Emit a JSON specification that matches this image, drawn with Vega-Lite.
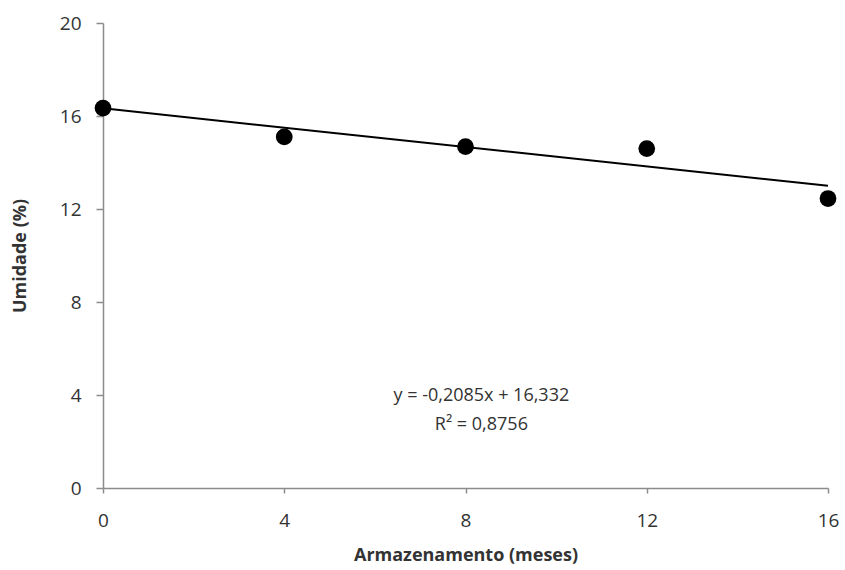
{
  "$schema": "https://vega.github.io/schema/vega-lite/v6.json",
  "width": 725,
  "height": 465,
  "autosize": {"type": "none"},
  "padding": {"left": 103, "top": 23, "right": 17, "bottom": 82},
  "background": "white",
  "config": {
    "view": {"stroke": null},
    "font": "Open Sans",
    "axis": {
      "grid": false,
      "domainColor": "#8c8c8c",
      "tickColor": "#8c8c8c",
      "domainWidth": 1.5,
      "tickWidth": 1.5,
      "labelColor": "#333333",
      "labelFontSize": 19,
      "labelFont": "Open Sans",
      "labelFlush": false,
      "titleFont": "Open Sans",
      "titleFontSize": 18,
      "titleFontWeight": "bold",
      "titleColor": "#333333"
    }
  },
  "datasets": {
    "pts": [
      {"meses": 0, "umidade": 16.34},
      {"meses": 4, "umidade": 15.1},
      {"meses": 8, "umidade": 14.68},
      {"meses": 12, "umidade": 14.6},
      {"meses": 16, "umidade": 12.45}
    ],
    "fit": [
      {"meses": 0, "umidade": 16.332},
      {"meses": 16, "umidade": 12.996}
    ],
    "eq": [
      {"meses": 8.35, "umidade": 3.96, "label": "y = -0,2085x + 16,332"},
      {"meses": 8.35, "umidade": 2.7, "label": "R² = 0,8756"}
    ]
  },
  "layer": [
    {
      "data": {"name": "fit"},
      "mark": {"type": "line", "color": "black", "strokeWidth": 2},
      "encoding": {
        "x": {
          "field": "meses", "type": "quantitative",
          "scale": {"domain": [0, 16], "nice": false},
          "axis": {"values": [0, 4, 8, 12, 16], "title": "Armazenamento (meses)", "tickSize": 5, "labelPadding": 18, "titlePadding": 16}
        },
        "y": {
          "field": "umidade", "type": "quantitative",
          "scale": {"domain": [0, 20], "nice": false},
          "axis": {"values": [0, 4, 8, 12, 16, 20], "title": "Umidade (%)", "tickSize": 7, "labelPadding": 15, "titlePadding": 30}
        }
      }
    },
    {
      "data": {"name": "pts"},
      "mark": {"type": "point", "filled": true, "color": "black", "opacity": 1, "size": 280},
      "encoding": {
        "x": {"field": "meses", "type": "quantitative"},
        "y": {"field": "umidade", "type": "quantitative"}
      }
    },
    {
      "data": {"name": "eq"},
      "mark": {"type": "text", "fontSize": 18, "color": "#333333", "font": "Open Sans"},
      "encoding": {
        "x": {"field": "meses", "type": "quantitative"},
        "y": {"field": "umidade", "type": "quantitative"},
        "text": {"field": "label"}
      }
    }
  ]
}
